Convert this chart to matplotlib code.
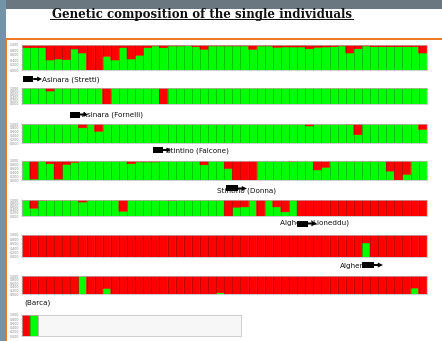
import numpy as np
import matplotlib.pyplot as plt
from matplotlib.patches import Rectangle, Polygon

# proportion of the green cluster per individual (red = 1 - green)
stretti = [0.89, 0.89, 0.89, 0.40, 0.44, 0.41, 0.84, 0.68, 0.0, 0.0,
           0.55, 0.40, 0.89, 0.44, 0.59, 0.89, 0.96, 0.89, 0.96, 0.96,
           0.97, 0.93, 0.83, 0.96, 0.96, 0.96, 0.96, 0.96, 0.83, 0.96,
           0.96, 0.91, 0.92, 0.92, 0.92, 0.85, 0.91, 0.92, 0.93, 0.96,
           0.68, 0.85, 0.96, 0.93, 0.93, 0.93, 0.93, 0.93, 0.93, 0.68]
fornelli = [1.0, 1.0, 1.0, 0.81, 1.0, 1.0, 1.0, 1.0, 1.0, 1.0,
            0.0, 1.0, 1.0, 1.0, 1.0, 1.0, 1.0, 0.0, 1.0, 1.0,
            1.0, 1.0, 1.0, 1.0, 1.0, 1.0, 1.0, 1.0, 1.0, 1.0,
            1.0, 1.0, 1.0, 1.0, 1.0, 1.0, 1.0, 1.0, 1.0, 1.0,
            1.0, 1.0, 1.0, 1.0, 1.0, 1.0, 1.0, 1.0, 1.0, 1.0]
falcone = [1.0, 1.0, 1.0, 1.0, 1.0, 1.0, 1.0, 0.80, 1.0, 0.62,
           1.0, 1.0, 1.0, 1.0, 1.0, 1.0, 1.0, 1.0, 1.0, 1.0,
           1.0, 1.0, 1.0, 1.0, 1.0, 1.0, 1.0, 1.0, 1.0, 1.0,
           1.0, 1.0, 1.0, 1.0, 1.0, 0.90, 1.0, 1.0, 1.0, 1.0,
           0.97, 0.44, 1.0, 1.0, 1.0, 1.0, 1.0, 1.0, 1.0, 0.72]
donna = [1.0, 0.05, 1.0, 0.86, 0.05, 0.82, 0.93, 1.0, 1.0, 1.0,
         1.0, 1.0, 1.0, 0.86, 0.95, 0.95, 0.95, 1.0, 1.0, 1.0,
         1.0, 1.0, 0.80, 1.0, 1.0, 0.61, 0.0, 0.0, 0.0, 1.0,
         1.0, 1.0, 1.0, 0.97, 1.0, 1.0, 0.53, 0.67, 1.0, 1.0,
         1.0, 1.0, 1.0, 1.0, 1.0, 0.47, 0.0, 0.30, 1.0, 1.0]
lioneddu = [1.0, 0.49, 0.97, 1.0, 1.0, 1.0, 1.0, 0.87, 1.0, 1.0,
            1.0, 1.0, 0.30, 1.0, 1.0, 1.0, 1.0, 1.0, 0.97, 1.0,
            1.0, 1.0, 1.0, 1.0, 1.0, 0.0, 0.55, 0.57, 1.0, 0.0,
            1.0, 0.57, 0.26, 1.0, 0.0, 0.0, 0.0, 0.0, 0.0, 0.0,
            0.0, 0.0, 0.0, 0.0, 0.0, 0.0, 0.0, 0.0, 0.0, 0.0]
alghero = [0.0] * 42 + [0.64] + [0.0] * 7
barca = [0.0, 0.0, 0.0, 0.0, 0.0, 0.0, 0.0, 1.0, 0.0, 0.0,
         0.31, 0.0, 0.0, 0.0, 0.0, 0.0, 0.0, 0.0, 0.0, 0.0,
         0.0, 0.0, 0.0, 0.0, 0.07, 0.0, 0.0, 0.0, 0.0, 0.0,
         0.0, 0.0, 0.0, 0.0, 0.0, 0.0, 0.0, 0.0, 0.0, 0.0,
         0.0, 0.0, 0.0, 0.0, 0.0, 0.0, 0.0, 0.0, 0.33, 0.0]
ref_pop = [0.0, 1.0]

tick_vals = [0.0, 0.2, 0.4, 0.6, 0.8, 1.0]
tick_text = ['0.000', '0.200', '0.400', '0.600', '0.800', '1.000']

W, H = 442, 341
GREEN, RED = '#00ff00', '#ff0000'

fig = plt.figure(figsize=(W / 100, H / 100), dpi=100)
fig.patch.set_facecolor('white')


def fx(x):
    return x / W


def fy(y):
    return 1 - y / H


# slide frame
fig.add_artist(Rectangle((0, 0), fx(6), 1, transform=fig.transFigure,
                         color='#7393a8', lw=0))
fig.add_artist(Rectangle((fx(6), 0), fx(1.3), fy(38), transform=fig.transFigure,
                         color='#f07a28', lw=0))
fig.add_artist(Rectangle((fx(6), fy(39.8)), 1, 2 / H, transform=fig.transFigure,
                         color='#f07a28', lw=0))
fig.add_artist(Rectangle((fx(6), fy(9)), 1, 9 / H, transform=fig.transFigure,
                         color='#6b7780', lw=0))

fig.text(fx(202), fy(14.5), 'Genetic composition of the single individuals',
         ha='center', va='center', fontsize=8.5, fontweight='bold',
         family='DejaVu Serif', color='#111111')
fig.add_artist(Rectangle((fx(50), fy(19.5)), fx(304), 0.8 / H,
                         transform=fig.transFigure, color='#111111', lw=0))


def panel(vals, top, bottom, right=426.7, nslots=None):
    left = 21.7
    ax = fig.add_axes([fx(left), fy(bottom), fx(right - left), (bottom - top) / H])
    x = np.arange(len(vals))
    g = np.array(vals)
    ax.bar(x, g, width=1, color=GREEN, edgecolor=GREEN, lw=0.4, snap=False)
    ax.bar(x, 1 - g, bottom=g, width=1, color=RED, edgecolor=RED, lw=0.4, snap=False)
    ax.vlines(np.arange(len(vals) + 1) - 0.5, 0, 1, color='black', alpha=0.3, lw=0.5)
    n = nslots if nslots else len(vals)
    ax.set_xlim(-0.5, n - 0.5)
    ax.set_ylim(0, 1)
    ax.set_xticks([])
    ax.set_yticks(tick_vals)
    ax.set_yticklabels(tick_text)
    ax.tick_params(axis='y', labelsize=2.3, labelcolor='#888888', length=1,
                   width=0.3, color='#999999', pad=1)
    for s in ax.spines.values():
        s.set_color('#bbbbbb')
        s.set_linewidth(0.5)
    return ax


panel(stretti, 45, 70)
panel(fornelli, 88, 104)
panel(falcone, 124, 143)
panel(donna, 161, 180)
panel(lioneddu, 200, 216)
panel(alghero, 235, 257)
panel(barca, 276, 294)
last = panel(ref_pop, 315, 336, right=241, nslots=27.07)
last.set_facecolor('#f7f7f7')


def pointer(x0, x1, yc):
    # black block arrow pointing right
    body = Rectangle((fx(x0), fy(yc + 3)), fx(x1 - x0) * 0.55, 6 / H,
                     transform=fig.transFigure, color='black', lw=0)
    fig.add_artist(body)
    xm = x0 + (x1 - x0) * 0.55
    xh = x1 - (x1 - x0) * 0.25
    pts = [(xm, yc - 1), (xh, yc - 1), (xh, yc - 2.5), (x1, yc),
           (xh, yc + 2.5), (xh, yc + 1), (xm, yc + 1)]
    fig.add_artist(Polygon([(fx(a), fy(b)) for a, b in pts],
                           transform=fig.transFigure, color='black', lw=0))


labels = [('Asinara (Stretti)', 42, 80),
          ('Asinara (Fornelli)', 82, 115),
          ('Stintino (Falcone)', 166, 150.7),
          ('Stintino (Donna)', 217, 191),
          ('Alghero (Lioneddu)', 280, 223),
          ('Alghero', 340, 265.7),
          ('(Barca)', 24, 303)]
for txt, x, y in labels:
    fig.text(fx(x), fy(y), txt, ha='left', va='center', fontsize=5.2,
             color='#111111')

pointer(22.5, 42, 79)
pointer(70, 88, 114.5)
pointer(153, 171, 150)
pointer(226, 247, 188.5)
pointer(297, 317, 223.5)
pointer(362, 383, 265)

fig.savefig('out.png', dpi=100)
